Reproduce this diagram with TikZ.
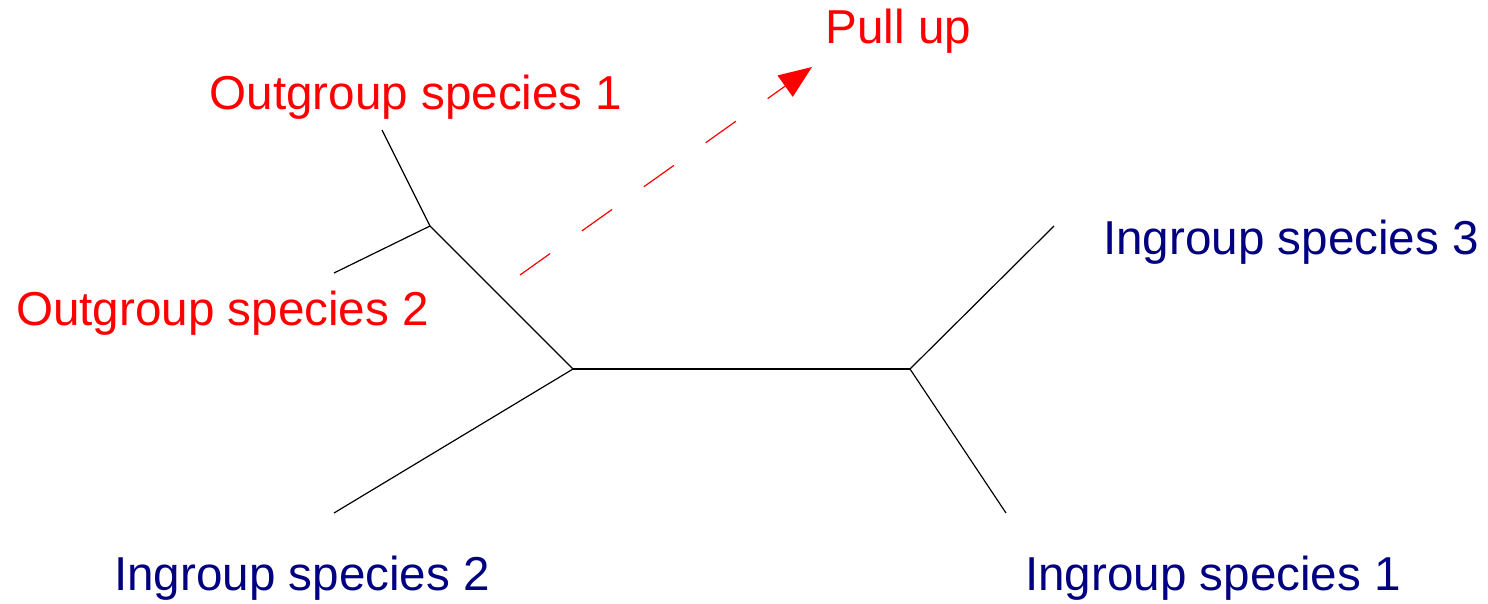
\documentclass[tikz,border=0pt]{standalone}
\usepackage{fontspec}
\setmainfont{Liberation Sans}
\usetikzlibrary{arrows.meta}
\definecolor{lblred}{HTML}{FF0000}
\definecolor{lblnavy}{HTML}{000080}
\begin{document}
\begin{tikzpicture}[x=1pt,y=-1pt,
  branch/.style={draw=black,line width=1.2pt},
  lbl/.style={anchor=base west,inner sep=0pt,font=\fontsize{47.6}{57}\selectfont},
  outlbl/.style={lbl,text=lblred},
  inlbl/.style={lbl,text=lblnavy},
  pullarrow/.style={draw=lblred,line width=1.2pt,dash pattern=on 37pt off 39pt,-{Triangle[length=33pt,width=26pt,fill=lblred]}}]
\useasboundingbox (0,0) rectangle (1488,603);
% inner nodes
\coordinate (na) at (430,226);
\coordinate (nb) at (573,369);
\coordinate (nc) at (910,369);
% leaf ends
\coordinate (o1) at (382,130);
\coordinate (o2) at (334,273);
\coordinate (i2) at (334,513);
\coordinate (i3) at (1054,226);
\coordinate (i1) at (1006,513);
% arrow ends
\coordinate (ps) at (520,275);
\coordinate (pe) at (812,67);
% branches
\draw[branch] (o1) -- (na);
\draw[branch] (o2) -- (na);
\draw[branch] (na) -- (nb);
\draw[branch] (i2) -- (nb);
\draw[branch] (nb) -- (nc);
\draw[branch] (nc) -- (i3);
\draw[branch] (nc) -- (i1);
\draw[pullarrow] (ps) -- (pe);
% labels
\node[outlbl] (lo1) at (209.5,109.5) {Outgroup species 1};
\node[outlbl] (lo2) at (16,325) {Outgroup species 2};
\node[outlbl] (lpu) at (825.5,43) {Pull up};
\node[inlbl] (li3) at (1103,254) {Ingroup species 3};
\node[inlbl] (li2) at (114,590) {Ingroup species 2};
\node[inlbl] (li1) at (1025,590) {Ingroup species 1};
\end{tikzpicture}
\end{document}
